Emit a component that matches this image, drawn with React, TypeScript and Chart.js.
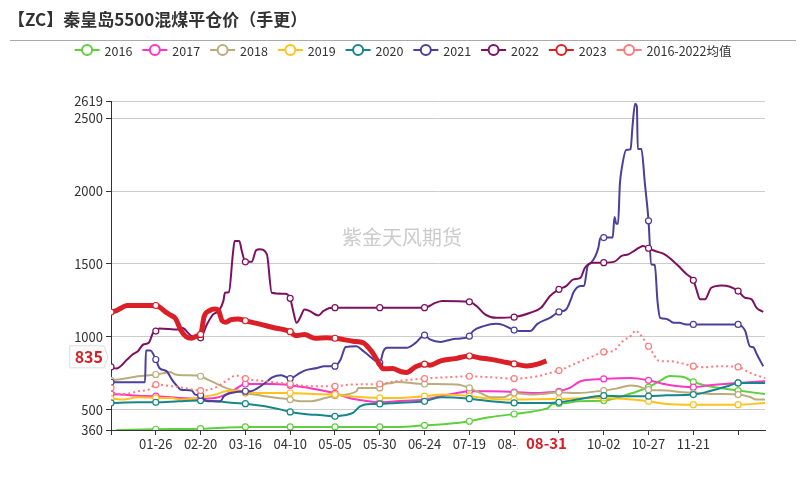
import React, { useEffect, useRef } from 'react';
import { Chart, registerables } from 'chart.js';

Chart.register(...registerables);

const FONT = '"Noto Sans CJK SC", "Noto Sans", sans-serif';

const titleText = '【ZC】秦皇岛5500混煤平仓价（手更）';
const watermarkText = '紫金天风期货';

const seriesNames = ['2016', '2017', '2018', '2019', '2020', '2021', '2022', '2023', '2016-2022均值'];
const seriesColors = ['#5fcf3e', '#ff35c4', '#bbac7c', '#ffc21c', '#16868c', '#4a3f9b', '#7d1160', '#db1f26', '#ff7b7b'];

const xTickDays = [0, 25, 50, 75, 100, 125, 150, 175, 200, 225, 250, 275, 300, 325, 350];
const xTickLabels = ['', '01-26', '02-20', '03-16', '04-10', '05-05', '05-30', '06-24', '07-19', '08-13', '09-07', '10-02', '10-27', '11-21', ''];
const yTickValues = [360, 500, 1000, 1500, 2000, 2500, 2619];
const yMin = 360;
const yMax = 2619;
const dayCount = 366;

const currentDay = 243;
const currentDayLabel = '08-31';
const lastValue = 835;

// [day of year index, price]
const s2016: [number, number][] = [
  [3, 360], [25, 365], [50, 369], [62, 376], [75, 381], [100, 381], [125, 381], [150, 381], [160, 381],
  [175, 392], [187, 401], [200, 420], [204, 431], [211, 447], [225, 470], [234, 484], [241, 500], [244, 512],
  [246, 536], [250, 542], [254, 546], [261, 557], [275, 562], [282, 580], [291, 614], [300, 654], [306, 695],
  [312, 730], [317, 728], [320, 722], [325, 690], [334, 660], [350, 631], [365, 607],
];
const s2017: [number, number][] = [
  [0, 607], [15, 596], [25, 592], [38, 580], [50, 575], [58, 580], [64, 603], [69, 637], [75, 676], [90, 676],
  [97, 672], [100, 667], [108, 654], [118, 631], [125, 612], [133, 580], [141, 562], [150, 550], [159, 557],
  [175, 569], [184, 592], [193, 614], [200, 626], [212, 626], [225, 621], [238, 614], [245, 619], [250, 626],
  [256, 649], [262, 695], [269, 706], [275, 711], [290, 717], [300, 701], [310, 672], [325, 654], [334, 667],
  [350, 683], [365, 695],
];
const s2018: [number, number][] = [
  [0, 701], [4, 706], [15, 729], [25, 741], [30, 752], [33, 759], [36, 741], [41, 736], [50, 729], [54, 706],
  [58, 683], [62, 660], [67, 637], [75, 614], [80, 603], [86, 592], [93, 580], [100, 569], [106, 557], [112, 557],
  [118, 575], [125, 595], [137, 626], [138, 649], [150, 649], [152, 672], [157, 683], [159, 690], [175, 676],
  [193, 672], [200, 649], [204, 626], [208, 603], [212, 585], [219, 585], [225, 614], [234, 603], [241, 608],
  [250, 619], [260, 614], [275, 631], [282, 644], [290, 665], [294, 660], [300, 637], [310, 631], [319, 619],
  [325, 614], [338, 607], [350, 603], [357, 585], [360, 569], [365, 569],
];
const s2019: [number, number][] = [
  [0, 575], [7, 569], [15, 585], [25, 580], [34, 580], [38, 569], [45, 575], [50, 585], [58, 603], [64, 626],
  [71, 631], [75, 621], [86, 614], [100, 614], [112, 607], [125, 603], [133, 592], [150, 580], [159, 580],
  [175, 592], [185, 603], [200, 592], [212, 575], [225, 569], [245, 573], [250, 573], [264, 580], [275, 580],
  [291, 569], [300, 557], [310, 539], [325, 534], [350, 534], [365, 546],
];
const s2020: [number, number][] = [
  [0, 546], [15, 550], [25, 550], [38, 557], [50, 562], [58, 557], [69, 546], [75, 541], [86, 523], [95, 500],
  [100, 484], [108, 470], [118, 461], [125, 454], [130, 461], [135, 477], [139, 523], [145, 539], [150, 539],
  [159, 546], [175, 557], [184, 585], [200, 575], [212, 557], [225, 546], [241, 546], [245, 546], [250, 550],
  [260, 569], [275, 596], [286, 592], [300, 592], [310, 598], [325, 603], [334, 626], [344, 660], [350, 683],
  [365, 683],
];
const s2021: [number, number][] = [
  [0, 688], [19, 688], [19.5, 906], [22, 906], [25, 844], [27, 786], [31, 764], [34, 706], [37, 660], [39, 637],
  [45, 631], [47, 603], [50, 598], [52, 569], [54, 557], [61, 557], [63, 592], [67, 614], [75, 626], [78, 626],
  [82, 649], [86, 683], [90, 722], [95, 736], [100, 713], [104, 741], [108, 768], [115, 786], [119, 798],
  [125, 798], [128, 840], [131, 930], [137, 935], [140, 910], [143, 880], [147, 840], [150, 821], [152, 900],
  [154, 924], [165, 924], [170, 958], [175, 1011], [178, 982], [184, 965], [190, 982], [195, 989], [200, 1004],
  [202, 1039], [208, 1073], [215, 1089], [219, 1080], [225, 1046], [228, 1039], [234, 1039], [238, 1089],
  [245, 1130], [250, 1171], [254, 1188], [257, 1268], [258, 1302], [262, 1348], [264, 1348], [266, 1486],
  [268, 1509], [272, 1612], [273, 1676], [275, 1681], [280, 1681], [281, 1823], [282, 1777], [283, 1777],
  [284, 2048], [285, 2151], [287.5, 2282], [290, 2289], [291, 2437], [292.5, 2600], [293.5, 2580], [294, 2289],
  [296, 2289], [298, 2048], [300, 1796], [301.5, 1498], [303.5, 1493], [305, 1245], [306.5, 1130], [310, 1123],
  [314, 1096], [317, 1096], [321, 1085], [325, 1085], [350, 1085], [352, 1073], [354, 1039], [356.5, 935],
  [358.5, 928], [360.5, 878], [364, 798],
];
const s2022: [number, number][] = [
  [0, 793], [3, 782], [9, 844], [12, 878], [15, 901], [18, 947], [21, 958], [23.5, 1027], [25, 1039], [27, 1057],
  [37.5, 1050], [40, 1061], [43, 1027], [45, 1004], [50, 993], [53.5, 1085], [57, 1154], [60, 1176], [62.7, 1245],
  [63.6, 1302], [65.8, 1307], [68, 1566], [69, 1658], [71.6, 1658], [73, 1589], [75, 1515], [78.5, 1515], [81, 1594],
  [83, 1601], [87, 1566], [89.7, 1302], [97, 1295], [100, 1264], [101.7, 1176], [103.6, 1096], [105.5, 1130],
  [108, 1188], [111, 1176], [115.7, 1147], [118.5, 1176], [122, 1198], [125, 1200], [150, 1200], [175, 1200],
  [181, 1233], [185, 1245], [200, 1240], [204, 1211], [208.7, 1154], [215, 1130], [225, 1135], [234, 1165],
  [240, 1199], [245, 1280], [250, 1326], [254, 1348], [258, 1394], [262, 1405], [264.5, 1474], [269, 1509],
  [275, 1509], [281, 1516], [285, 1555], [288.7, 1566], [292.4, 1594], [297, 1624], [300, 1608], [303.6, 1589],
  [309, 1566], [315.7, 1498], [321.3, 1429], [325, 1388], [327, 1314], [328.7, 1257], [331.5, 1257], [335, 1337],
  [340.8, 1353], [345.5, 1344], [350, 1314], [353.8, 1268], [357.5, 1257], [360.3, 1199], [364, 1171],
];
const s2023: [number, number][] = [
  [0, 1170], [3, 1180], [6, 1200], [9, 1215], [25, 1215], [30, 1175], [33, 1150], [36, 1125], [39, 1045],
  [42, 1000], [45, 990], [48, 1005], [50, 1016], [52, 1140], [55, 1180], [58, 1190], [60, 1180], [62, 1110],
  [64, 1100], [67, 1118], [71, 1123], [75, 1110], [82, 1090], [91, 1062], [100, 1035], [103, 1008], [108, 1015],
  [114, 990], [120, 993], [125, 990], [135, 970], [141, 958], [143, 935], [146, 890], [149, 830], [152, 780],
  [157, 782], [162, 760], [165, 755], [170, 795], [175, 812], [178, 805], [184, 835], [192, 850], [200, 868],
  [206, 855], [212, 845], [219, 828], [225, 814], [232, 800], [238, 812], [243, 835],
];
const sMean: [number, number][] = [
  [0, 649], [2, 614], [8, 607], [15, 626], [21, 637], [25, 672], [34, 660], [43, 644], [50, 631], [58, 649],
  [64, 695], [70, 734], [75, 713], [86, 695], [100, 676], [112, 660], [125, 660], [133, 672], [150, 676],
  [159, 695], [175, 713], [187, 722], [200, 729], [212, 722], [225, 713], [238, 729], [245, 752], [250, 768],
  [260, 821], [269, 867], [275, 896], [280, 901], [285.6, 970], [291, 1016], [292.5, 1043], [295, 1020],
  [300, 935], [306.5, 832], [312, 832], [319, 816], [325, 798], [332, 791], [338, 798], [350, 793],
  [356.6, 752], [365, 717],
];

const seriesData = [s2016, s2017, s2018, s2019, s2020, s2021, s2022, s2023, sMean];

function drawLegend(ctx: CanvasRenderingContext2D) {
  ctx.save();
  ctx.font = `12.5px ${FONT}`;
  const iconW = 25;
  const gapText = 5;
  const itemGap = 10;
  const widths = seriesNames.map((n) => iconW + gapText + ctx.measureText(n).width);
  const total = widths.reduce((a, b) => a + b, 0) + itemGap * (widths.length - 1);
  let x = (806 - total) / 2;
  const y = 50;
  seriesNames.forEach((n, i) => {
    const c = seriesColors[i];
    ctx.strokeStyle = c;
    ctx.lineWidth = 2;
    ctx.beginPath();
    ctx.moveTo(x, y);
    ctx.lineTo(x + iconW, y);
    ctx.stroke();
    ctx.beginPath();
    ctx.arc(x + iconW / 2, y, 5, 0, Math.PI * 2);
    ctx.fillStyle = '#fff';
    ctx.fill();
    ctx.stroke();
    ctx.fillStyle = '#333';
    ctx.textBaseline = 'middle';
    ctx.textAlign = 'left';
    ctx.fillText(n, x + iconW + gapText, y + 1);
    x += widths[i] + itemGap;
  });
  ctx.restore();
}

const decorPlugin = {
  id: 'decor',
  beforeDatasetsDraw(chart: any) {
    const ctx = chart.ctx as CanvasRenderingContext2D;
    const { left, right, top, bottom } = chart.chartArea;
    ctx.save();
    ctx.font = `20px ${FONT}`;
    ctx.fillStyle = 'rgba(160,160,160,0.55)';
    ctx.textAlign = 'center';
    ctx.textBaseline = 'middle';
    ctx.fillText(watermarkText, (left + right) / 2 - 36, (top + bottom) / 2 - 28);
    ctx.restore();
  },
  afterDraw(chart: any) {
    const ctx = chart.ctx as CanvasRenderingContext2D;
    ctx.save();
    ctx.font = `bold 17px ${FONT}`;
    ctx.fillStyle = '#333';
    ctx.textAlign = 'left';
    ctx.textBaseline = 'middle';
    ctx.fillText(titleText, 8, 20);
    ctx.strokeStyle = '#aaa';
    ctx.lineWidth = 1;
    ctx.beginPath();
    ctx.moveTo(10, 40.5);
    ctx.lineTo(796, 40.5);
    ctx.stroke();
    ctx.restore();

    drawLegend(ctx);

    const xs = chart.scales.x;
    const ys = chart.scales.y;
    ctx.save();
    ctx.font = `bold 15px ${FONT}`;
    const cx = xs.getPixelForValue(currentDay);
    const tw = ctx.measureText(currentDayLabel).width;
    ctx.fillStyle = '#fff';
    ctx.fillRect(cx - tw / 2 - 8, ys.bottom + 3, tw + 16, 22);
    ctx.fillStyle = '#d81e26';
    ctx.textAlign = 'center';
    ctx.textBaseline = 'middle';
    ctx.fillText(currentDayLabel, cx, ys.bottom + 13);
    ctx.restore();

    ctx.save();
    ctx.font = `bold 16px ${FONT}`;
    const vy = ys.getPixelForValue(lastValue) - 4;
    const lbl = String(lastValue);
    const lw = ctx.measureText(lbl).width;
    const bx1 = 104 - lw - 6;
    const bx2 = 104;
    ctx.fillStyle = '#fff';
    ctx.strokeStyle = '#ddd';
    ctx.lineWidth = 1;
    ctx.beginPath();
    ctx.moveTo(bx1, vy - 11);
    ctx.lineTo(bx2, vy - 11);
    ctx.lineTo(bx2 + 4, vy);
    ctx.lineTo(bx2, vy + 11);
    ctx.lineTo(bx1, vy + 11);
    ctx.closePath();
    ctx.fill();
    ctx.stroke();
    ctx.fillStyle = '#d81e26';
    ctx.textAlign = 'right';
    ctx.textBaseline = 'middle';
    ctx.fillText(lbl, 103, vy);
    ctx.restore();
  },
};

export default function App() {
  const ref = useRef<HTMLCanvasElement | null>(null);

  useEffect(() => {
    document.body.style.margin = '0';
    const canvas = ref.current;
    if (!canvas) return;

    const datasets = seriesNames.map((name, i) => {
      const isCur = i === 7;
      const isMean = i === 8;
      return {
        label: name,
        data: seriesData[i].map(([d, v]) => ({ x: d, y: v })),
        borderColor: seriesColors[i],
        backgroundColor: '#fff',
        borderWidth: isCur ? 5 : 2,
        borderDash: isMean ? [2, 3] : [],
        pointRadius: (c: any) => {
          const raw = c.raw;
          return raw && Number.isInteger(raw.x) && raw.x % 25 === 0 ? 3 : 0;
        },
        pointBorderWidth: 1.2,
        pointBorderColor: seriesColors[i],
        pointBackgroundColor: '#fff',
        pointHoverRadius: 0,
        cubicInterpolationMode: 'monotone' as const,
        fill: false,
        order: 20 - i,
      };
    });

    const chart = new Chart(canvas, {
      type: 'line',
      data: { datasets },
      plugins: [decorPlugin],
      options: {
        animation: false,
        responsive: false,
        devicePixelRatio: 1,
        layout: { padding: { top: 101, right: 41, bottom: 0, left: 0 } },
        plugins: {
          legend: { display: false },
          title: { display: false },
          tooltip: { enabled: false },
        },
        scales: {
          x: {
            type: 'linear',
            min: 0,
            max: dayCount - 1,
            afterFit: (s: any) => { s.height = 60; },
            afterBuildTicks: (s: any) => { s.ticks = xTickDays.map((v) => ({ value: v })); },
            ticks: {
              autoSkip: false,
              maxRotation: 0,
              color: '#333',
              padding: 1,
              font: { family: FONT, size: 13 },
              callback: (v: any) => {
                const k = xTickDays.indexOf(Number(v));
                return k >= 0 ? xTickLabels[k] : '';
              },
            },
            grid: { drawOnChartArea: false, drawTicks: true, tickLength: 5, tickColor: '#333' },
            border: { display: true, color: '#333', width: 1 },
          },
          y: {
            type: 'linear',
            min: yMin,
            max: yMax,
            afterFit: (s: any) => { s.width = 111; },
            afterBuildTicks: (s: any) => { s.ticks = yTickValues.map((v) => ({ value: v })); },
            ticks: {
              color: '#333',
              padding: 3,
              font: { family: FONT, size: 13 },
              callback: (v: any) => String(v),
            },
            grid: { color: '#cccccc', drawTicks: true, tickLength: 5, tickColor: '#333' },
            border: { display: true, color: '#333', width: 1 },
          },
        },
      },
    });

    return () => chart.destroy();
  }, []);

  return (
    <div style={{ width: 806, height: 490, position: 'relative', background: '#fff' }}>
      <canvas ref={ref} width={806} height={490} style={{ display: 'block' }} />
    </div>
  );
}
